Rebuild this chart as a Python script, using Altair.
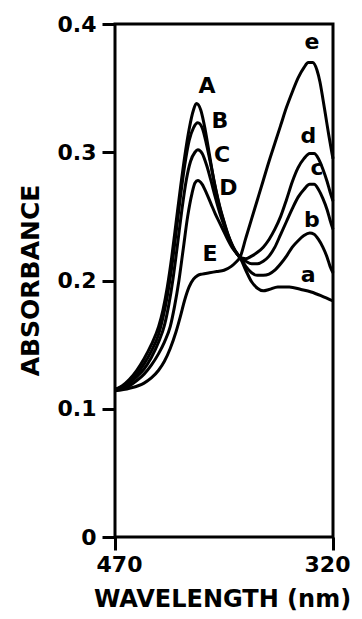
import altair as alt
import pandas as pd

# Curve 1 (A -> a)
wl_1 = [470, 465, 460, 455, 450, 445, 440, 437, 434, 431, 428, 425, 422, 419, 416, 414,
        411, 408, 405, 402, 399, 396, 393, 390, 387, 384,
        380, 376, 372, 368, 364, 358, 350, 342, 335, 328, 320]
ab_1 = [0.115, 0.118, 0.123, 0.130, 0.139, 0.150, 0.164, 0.177, 0.195, 0.218, 0.245, 0.272, 0.297, 0.318, 0.333, 0.338,
        0.333, 0.318, 0.298, 0.278, 0.262, 0.249, 0.238, 0.229, 0.222, 0.218,
        0.208, 0.199, 0.194, 0.192, 0.193, 0.195, 0.195, 0.193, 0.191, 0.188, 0.184]

# Curve 2 (B -> b)
wl_2 = [470, 460, 455, 450, 445, 440, 437, 434, 431, 428, 425, 422, 419, 416, 413,
        410, 407, 404, 401, 398, 395, 392, 389, 386, 384,
        380, 376, 372, 368, 364, 360, 356, 352, 348, 344, 340, 336, 333, 330, 327, 324, 322, 320]
ab_2 = [0.115, 0.121, 0.127, 0.135, 0.145, 0.158, 0.171, 0.188, 0.210, 0.237, 0.265, 0.290, 0.309, 0.319, 0.323,
        0.319, 0.306, 0.290, 0.273, 0.258, 0.246, 0.235, 0.227, 0.221, 0.218,
        0.211, 0.206, 0.204, 0.204, 0.205, 0.208, 0.213, 0.219, 0.226, 0.231, 0.235, 0.237, 0.236, 0.232, 0.226, 0.218, 0.211, 0.206]

# Curve 3 (C -> c)
wl_3 = [470, 460, 455, 450, 445, 440, 436, 433, 430, 427, 424, 421, 418, 415, 413,
        410, 407, 404, 401, 398, 395, 392, 389, 386, 384,
        380, 376, 372, 368, 364, 360, 356, 352, 348, 344, 340, 336, 333, 330, 327, 324, 322, 320]
ab_3 = [0.115, 0.120, 0.125, 0.131, 0.140, 0.152, 0.165, 0.181, 0.202, 0.228, 0.255, 0.278, 0.293, 0.300, 0.302,
        0.299, 0.290, 0.278, 0.265, 0.253, 0.243, 0.234, 0.226, 0.221, 0.218,
        0.215, 0.213, 0.213, 0.215, 0.219, 0.226, 0.236, 0.246, 0.256, 0.265, 0.271, 0.275, 0.275, 0.271, 0.264, 0.255, 0.247, 0.240]

# Curve 4 (D -> d)
wl_4 = [470, 460, 455, 450, 445, 440, 436, 432, 429, 426, 423, 420, 417, 415, 413,
        410, 407, 404, 401, 398, 395, 392, 389, 386, 384,
        380, 376, 372, 368, 364, 360, 356, 352, 348, 344, 340, 336, 333, 330, 327, 324, 322, 320]
ab_4 = [0.115, 0.118, 0.122, 0.127, 0.134, 0.143, 0.152, 0.164, 0.180, 0.200, 0.225, 0.250, 0.268, 0.276, 0.278,
        0.275, 0.268, 0.260, 0.252, 0.245, 0.238, 0.231, 0.225, 0.221, 0.218,
        0.217, 0.219, 0.222, 0.226, 0.232, 0.240, 0.250, 0.263, 0.277, 0.288, 0.295, 0.299, 0.299, 0.295, 0.287, 0.277, 0.269, 0.262]

# Curve 5 (E -> e)
wl_5 = [470, 460, 450, 445, 440, 436, 432, 428, 425, 422, 419, 416, 413, 410, 405, 400, 395, 390, 387, 384,
        380, 376, 372, 368, 364, 360, 356, 352, 348, 344, 340, 337, 334, 331, 329, 327, 325, 323, 321, 320]
ab_5 = [0.114, 0.116, 0.120, 0.124, 0.130, 0.137, 0.147, 0.160, 0.172, 0.185, 0.195, 0.201, 0.204, 0.205, 0.206, 0.207, 0.208, 0.211, 0.214, 0.218,
        0.233, 0.248, 0.263, 0.278, 0.293, 0.307, 0.321, 0.335, 0.347, 0.358, 0.366, 0.370, 0.370, 0.364, 0.355, 0.342, 0.328, 0.314, 0.301, 0.295]

# Curve labels
label_text = ["A", "B", "C", "D", "E", "a", "b", "c", "d", "e"]
label_wl = [406.7, 397.8, 396.4, 392.0, 404.6, 337.0, 334.5, 331.0, 337.0, 334.5]
label_ab = [0.352, 0.324, 0.298, 0.272, 0.221, 0.204, 0.247, 0.288, 0.313, 0.386]

y_ticks = [0, 0.1, 0.2, 0.3, 0.4]
x_ticks = [470, 320]

rows = []
for name, wl, ab in [("1", wl_1, ab_1), ("2", wl_2, ab_2), ("3", wl_3, ab_3),
                     ("4", wl_4, ab_4), ("5", wl_5, ab_5)]:
    for w, a in zip(wl, ab):
        rows.append({"curve": name, "wavelength": w, "absorbance": a})
df = pd.DataFrame(rows)
labels = pd.DataFrame({"text": label_text, "wavelength": label_wl, "absorbance": label_ab})

FONT = "DejaVu Sans"

x_scale = alt.Scale(domain=[470, 320], nice=False, zero=False)
y_scale = alt.Scale(domain=[0, 0.4], nice=False)

lines = alt.Chart(df).mark_line(color="black", strokeWidth=3, interpolate="monotone").encode(
    x=alt.X("wavelength:Q", scale=x_scale,
            axis=alt.Axis(values=x_ticks, format="d", title="WAVELENGTH (nm)",
                          labelFlush=False, labelPadding=4, labelFontSize=22,
                          labelOffset={"condition": {"test": "datum.value == 320", "value": -6}, "value": 4},
                          titleX=107, titleY=69, titleBaseline="alphabetic", titleAlign="center",
                          titleFontSize=24)),
    y=alt.Y("absorbance:Q", scale=y_scale,
            axis=alt.Axis(values=y_ticks, title="ABSORBANCE",
                          labelExpr="datum.value == 0 ? '0' : format(datum.value, '.1f')",
                          labelPadding=6, labelFontSize=22,
                          titleX=-85, titleY=256, titleAngle=-90, titleBaseline="middle",
                          titleAlign="center", titleFontSize=25)),
    detail="curve:N",
    order=alt.Order("wavelength:Q", sort="descending"),
)

texts = alt.Chart(labels).mark_text(font=FONT, fontWeight="bold", fontSize=22, color="black").encode(
    x=alt.X("wavelength:Q", scale=x_scale),
    y=alt.Y("absorbance:Q", scale=y_scale),
    text="text:N",
)

chart = alt.layer(lines, texts).properties(
    width=218, height=513,
    autosize=alt.AutoSizeParams(type="none"),
    padding={"left": 107, "top": 16, "right": 21, "bottom": 74},
).configure_view(
    stroke="black", strokeWidth=3
).configure_axis(
    domain=False, grid=False, ticks=True, tickColor="black", tickWidth=3, tickSize=13,
    labelFont=FONT, labelFontWeight="bold", labelColor="black",
    titleFont=FONT, titleFontWeight="bold", titleColor="black",
)

chart.save("out.html", embed_options={"renderer": "svg", "actions": False})
